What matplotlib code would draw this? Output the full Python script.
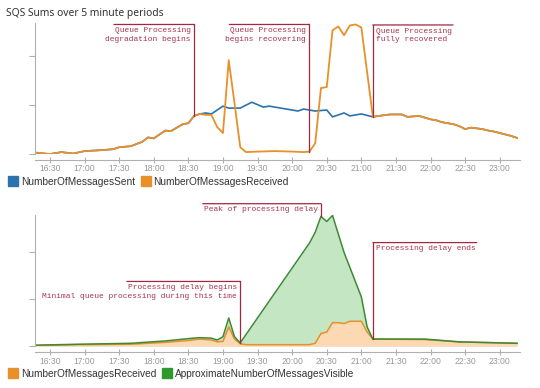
import matplotlib
matplotlib.use('Agg')
import matplotlib.pyplot as plt
import matplotlib.dates as mdates
import pandas as pd
from matplotlib.lines import Line2D

# --- top chart: sent / received (sent == received outside the incident window)
early_times = ['16:17', '16:30', '16:40', '16:50', '17:00', '17:15', '17:25', '17:30',
               '17:40', '17:50', '17:55', '18:00', '18:10', '18:15', '18:25', '18:30', '18:35']
early_vals = [0.03, 0.00, 0.04, 0.01, 0.06, 0.08, 0.10, 0.14,
              0.16, 0.25, 0.34, 0.32, 0.48, 0.47, 0.61, 0.63, 0.78]

sent_mid_times = ['18:40', '18:45', '18:50', '19:00', '19:05', '19:15', '19:25', '19:35',
                  '19:40', '19:50', '20:05', '20:10', '20:15', '20:20', '20:30', '20:35',
                  '20:45', '20:50', '21:00']
sent_mid_vals = [0.82, 0.84, 0.82, 0.98, 0.94, 0.94, 1.06, 0.96,
                 0.98, 0.94, 0.88, 0.92, 0.90, 0.88, 0.90, 0.76,
                 0.84, 0.78, 0.82]

recv_mid_times = ['18:40', '18:45', '18:50', '18:55', '19:00', '19:05', '19:10', '19:15',
                  '19:20', '19:30', '19:45', '20:00', '20:10', '20:15', '20:20', '20:25',
                  '20:30', '20:35', '20:40', '20:45', '20:50', '20:55', '21:00']
recv_mid_vals = [0.82, 0.80, 0.80, 0.55, 0.43, 1.92, 1.04, 0.14,
                 0.04, 0.05, 0.06, 0.05, 0.04, 0.05, 0.22, 1.35,
                 1.37, 2.53, 2.61, 2.43, 2.63, 2.65, 2.59]

late_times = ['21:10', '21:15', '21:25', '21:35', '21:40', '21:50', '22:00', '22:05',
              '22:10', '22:20', '22:25', '22:30', '22:35', '22:45', '22:50', '22:55',
              '23:00', '23:05', '23:10', '23:15']
late_vals = [0.76, 0.78, 0.81, 0.81, 0.76, 0.78, 0.71, 0.69,
             0.65, 0.61, 0.57, 0.51, 0.54, 0.51, 0.48, 0.46,
             0.43, 0.40, 0.37, 0.33]

# --- bottom chart
visible_times = ['16:17', '16:55', '17:40', '18:10', '18:30', '18:40', '18:50', '18:55',
                 '19:00', '19:05', '19:10', '19:15', '20:15', '20:20', '20:25', '20:30',
                 '20:35', '20:45', '21:00', '21:05', '21:10', '21:55', '22:25', '23:15']
visible_vals = [0.02, 0.04, 0.06, 0.11, 0.16, 0.18, 0.17, 0.13,
                0.20, 0.60, 0.20, 0.07, 2.20, 2.43, 2.77, 2.66,
                2.79, 2.00, 1.05, 0.41, 0.15, 0.15, 0.09, 0.06]

recv_low_times = ['16:17', '16:55', '17:40', '18:10', '18:30', '18:40', '18:50', '18:55',
                  '19:00', '19:05', '19:10', '19:15', '19:20', '20:15', '20:20', '20:25',
                  '20:30', '20:35', '20:40', '20:45', '20:50', '21:00', '21:05', '21:10',
                  '21:55', '22:25', '23:15']
recv_low_vals = [0.01, 0.03, 0.04, 0.08, 0.12, 0.15, 0.13, 0.09,
                 0.10, 0.41, 0.15, 0.05, 0.03, 0.03, 0.06, 0.27,
                 0.30, 0.50, 0.50, 0.48, 0.53, 0.53, 0.30, 0.15,
                 0.14, 0.09, 0.06]

BLUE = '#2a73ad'
ORANGE = '#e8902a'
GREEN = '#3d8a36'
GREEN_FILL = '#c4e6c2'
ORANGE_FILL = '#fcd9b3'
ANN_LINE = '#a3283f'
ANN_TEXT = '#a8334f'
ANN_FS = 5.7
AXIS_COL = '#b0b0b0'


def ts(hhmm):
    return pd.to_datetime(['2017-01-01 ' + s for s in hhmm])


def style(ax, ymax):
    ax.set_xlim(ts(['16:17'])[0], ts(['23:17:30'])[0])
    ax.set_ylim(0, ymax)
    ax.set_yticks([0, 1, 2])
    ax.set_yticklabels([])
    for s in ['top', 'right']:
        ax.spines[s].set_visible(False)
    ax.spines['left'].set_color(AXIS_COL)
    ax.spines['bottom'].set_color(AXIS_COL)
    ax.spines['bottom'].set_position(('outward', 4))
    ax.xaxis.set_major_locator(mdates.MinuteLocator(byminute=[0, 30]))
    ax.xaxis.set_major_formatter(mdates.DateFormatter('%H:%M'))
    ax.tick_params(axis='x', color=AXIS_COL, labelcolor='#999999', labelsize=6.2,
                   length=5, direction='inout', pad=1)
    ax.tick_params(axis='y', color=AXIS_COL, length=4)
    for lab in ax.get_xticklabels():
        lab.set_family('Liberation Sans')


def flag(ax, t, v, ytop, lines, side):
    x = mdates.date2num(ts([t])[0])
    ax.plot([x, x], [v, ytop], color=ANN_LINE, lw=0.9, clip_on=False, zorder=6)
    w = len(lines[0]) * 0.6 * ANN_FS + 3
    sgn = -1 if side == 'left' else 1
    ax.annotate('', xy=(x, ytop), xytext=(sgn * w, 0), textcoords='offset points',
                arrowprops=dict(arrowstyle='-', color=ANN_LINE, lw=0.9, shrinkA=0, shrinkB=0),
                annotation_clip=False, zorder=6)
    ax.annotate('\n'.join(lines), xy=(x, ytop), xytext=(sgn * 2.5, -2), textcoords='offset points',
                ha='right' if side == 'left' else 'left', va='top', fontsize=ANN_FS,
                family='Liberation Mono', color=ANN_TEXT, annotation_clip=False,
                linespacing=1.3, zorder=6)


fig = plt.figure(figsize=(5.4, 3.88), dpi=100)
ax1 = fig.add_axes([0.0648, 0.603, 0.898, 0.3377])
ax2 = fig.add_axes([0.0648, 0.108, 0.898, 0.338])

fig.text(0.011, 1 - 13.5 / 388, 'SQS Sums over 5 minute periods', va='center',
         fontsize=7.4, family='Noto Sans', color='#333333')

# top chart
sent_t = ts(early_times + sent_mid_times + late_times)
sent_v = early_vals + sent_mid_vals + late_vals
recv_t = ts(early_times + recv_mid_times + late_times)
recv_v = early_vals + recv_mid_vals + late_vals
ax1.plot(sent_t, sent_v, color=BLUE, lw=1.2)
ax1.plot(recv_t, recv_v, color=ORANGE, lw=1.3)
style(ax1, 2.68)

flag(ax1, '18:35', 0.78, 2.65, ['Queue Processing', 'degradation begins'], 'left')
flag(ax1, '20:15', 0.05, 2.65, ['Queue Processing', 'begins recovering'], 'left')
flag(ax1, '21:10', 0.76, 2.64, ['Queue Processing', 'fully recovered'], 'right')

# bottom chart
vis_t = ts(visible_times)
rl_t = ts(recv_low_times)
ax2.fill_between(vis_t, visible_vals, color=GREEN_FILL, lw=0)
ax2.fill_between(rl_t, recv_low_vals, color=ORANGE_FILL, lw=0)
ax2.plot(rl_t, recv_low_vals, color=ORANGE, lw=1.1)
ax2.plot(vis_t, visible_vals, color=GREEN, lw=1.1)
style(ax2, 2.8)

flag(ax2, '19:15', 0.07, 1.38, ['Processing delay begins',
                                 'Minimal queue processing during this time'], 'left')
flag(ax2, '20:25', 2.77, 3.04, ['Peak of processing delay'], 'left')
flag(ax2, '21:10', 0.15, 2.21, ['Processing delay ends'], 'right')


def legend(items, ycenter):
    handles = [Line2D([], [], marker='s', ls='', markersize=7.5, color=c) for _, c in items]
    fig.legend(handles, [n for n, _ in items], loc='center left',
               bbox_to_anchor=(0.009, 1 - ycenter / 388), ncol=2, frameon=False,
               handlelength=0.9, handletextpad=0.3, columnspacing=0.6, borderaxespad=0,
               prop={'family': 'Liberation Sans', 'size': 7.3}, labelcolor='#333333')


legend([('NumberOfMessagesSent', BLUE), ('NumberOfMessagesReceived', ORANGE)], 182)
legend([('NumberOfMessagesReceived', ORANGE), ('ApproximateNumberOfMessagesVisible', '#2e9a2e')], 374)

fig.savefig('out.png', dpi=100)
